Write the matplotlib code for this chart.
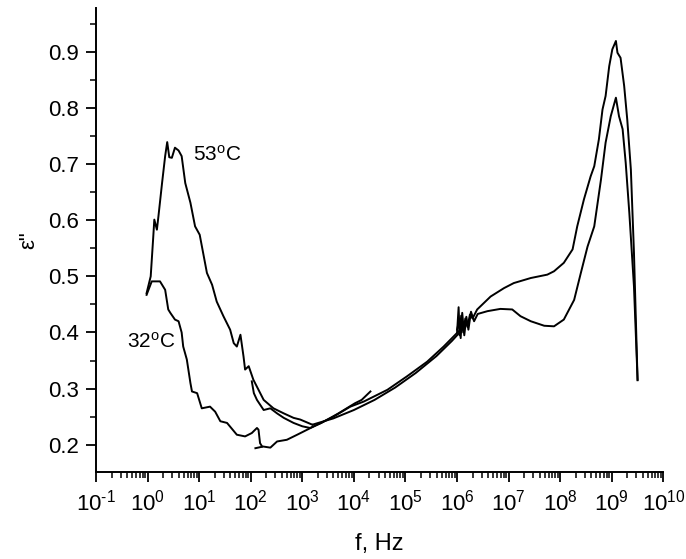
import numpy as np
import matplotlib
matplotlib.use("Agg")
import matplotlib.pyplot as plt
from matplotlib.ticker import LogLocator, MultipleLocator, NullFormatter, FuncFormatter

plt.rcParams['font.family'] = ['Liberation Sans', 'DejaVu Sans']
plt.rcParams['mathtext.fontset'] = 'custom'
plt.rcParams['mathtext.rm'] = 'Liberation Sans'
plt.rcParams['mathtext.it'] = 'Liberation Sans:italic'
plt.rcParams['axes.unicode_minus'] = False

lo53_logf = [-0.02, 0.06, 0.11, 0.13, 0.18, 0.21, 0.28, 0.34, 0.38, 0.42, 0.47, 0.53, 0.60, 0.66,
             0.73, 0.83, 0.92, 1.01, 1.15, 1.25, 1.34, 1.47, 1.60, 1.67, 1.73, 1.80,
             1.86, 1.89, 1.96, 2.05, 2.15, 2.25, 2.44, 2.64, 2.83, 2.96, 3.19]
lo53_eps = [0.470, 0.500, 0.571, 0.601, 0.583, 0.607, 0.666, 0.714, 0.739, 0.712, 0.711, 0.729, 0.724, 0.714,
            0.666, 0.631, 0.589, 0.574, 0.506, 0.485, 0.455, 0.429, 0.405, 0.381, 0.375, 0.396,
            0.357, 0.334, 0.340, 0.316, 0.298, 0.280, 0.265, 0.256, 0.248, 0.245, 0.236]

mid53_logf = [2.02, 2.06, 2.12, 2.25, 2.38, 2.51, 2.64, 2.83, 3.00, 3.15, 3.37, 3.70, 4.02, 4.15, 4.32]
mid53_eps = [0.313, 0.292, 0.280, 0.262, 0.265, 0.256, 0.248, 0.239, 0.233, 0.230, 0.239, 0.256,
             0.274, 0.280, 0.295]

lo32_logf = [-0.02, 0.08, 0.24, 0.34, 0.40, 0.44, 0.53, 0.60, 0.66, 0.69, 0.76, 0.83, 0.86,
             0.96, 1.05, 1.21, 1.31, 1.41, 1.54, 1.73, 1.89, 2.02, 2.12, 2.15, 2.18, 2.22]
lo32_eps = [0.467, 0.491, 0.491, 0.476, 0.441, 0.435, 0.423, 0.420, 0.400, 0.375, 0.352, 0.310,
            0.295, 0.292, 0.265, 0.268, 0.259, 0.242, 0.239, 0.218, 0.215, 0.221, 0.230, 0.227,
            0.203, 0.197]

mid32_logf = [2.09, 2.24, 2.38, 2.51, 2.70, 2.90, 3.16, 3.60, 3.93, 4.19, 4.65, 5.03, 5.42,
              5.74, 6.03]
mid32_eps = [0.194, 0.197, 0.195, 0.206, 0.209, 0.218, 0.230, 0.250, 0.268, 0.277, 0.298,
             0.322, 0.348, 0.375, 0.402]

mid53b_logf = [3.20, 3.60, 4.00, 4.40, 4.80, 5.20, 5.60, 5.90, 6.05]
mid53b_eps = [0.236, 0.247, 0.262, 0.280, 0.302, 0.328, 0.358, 0.385, 0.400]

hfa_logf = [6.00, 6.03, 6.05, 6.08, 6.12, 6.16, 6.20, 6.25, 6.30, 6.39, 6.65, 6.91, 7.10, 7.43,
            7.75, 7.88, 8.07, 8.24, 8.33, 8.46, 8.59, 8.66, 8.75, 8.82, 8.88, 8.95, 9.01,
            9.08, 9.11, 9.17, 9.24, 9.30, 9.37, 9.43, 9.50]
hfa_eps = [0.400, 0.445, 0.395, 0.430, 0.400, 0.425, 0.410, 0.432, 0.425, 0.441, 0.464, 0.479,
           0.488, 0.497, 0.503, 0.509, 0.524, 0.548, 0.589, 0.637, 0.678, 0.696, 0.744, 0.797,
           0.821, 0.874, 0.904, 0.919, 0.898, 0.889, 0.839, 0.779, 0.690, 0.542, 0.315]

hfb_logf = [6.00, 6.04, 6.07, 6.10, 6.14, 6.18, 6.22, 6.27, 6.33, 6.40, 6.59, 6.84, 7.07, 7.23,
            7.43, 7.69, 7.88, 8.07, 8.27, 8.40, 8.53, 8.66, 8.79, 8.88, 8.98, 9.08, 9.14,
            9.21, 9.27, 9.34, 9.43, 9.50]
hfb_eps = [0.405, 0.420, 0.390, 0.435, 0.395, 0.428, 0.405, 0.437, 0.420, 0.433, 0.438, 0.442,
           0.441, 0.429, 0.420, 0.412, 0.411, 0.423, 0.458, 0.506, 0.553, 0.589, 0.672, 0.738,
           0.785, 0.818, 0.785, 0.762, 0.702, 0.613, 0.482, 0.316]

curves = [(lo53_logf, lo53_eps), (mid53_logf, mid53_eps), (lo32_logf, lo32_eps),
          (mid32_logf, mid32_eps), (mid53b_logf, mid53b_eps), (hfa_logf, hfa_eps),
          (hfb_logf, hfb_eps)]


def decade_label(x, pos):
    e = int(round(np.log10(x)))
    if e < 0:
        return '10$^{\\text{-}%d}$' % (-e)
    return '10$^{%d}$' % e


fig = plt.figure(figsize=(6.86, 5.59), dpi=100)
ax = fig.add_axes([0.140, 0.156, 0.827, 0.830])

for logf, eps in curves:
    ax.plot(10.0 ** np.array(logf), eps, color='black', lw=1.4)

ax.set_xscale('log')
ax.set_xlim(1e-1, 1e10)
ax.set_ylim(0.152, 0.978)
ax.xaxis.set_major_locator(LogLocator(base=10, numticks=20))
ax.xaxis.set_major_formatter(FuncFormatter(decade_label))
ax.xaxis.set_minor_locator(LogLocator(base=10, subs=np.arange(2, 10), numticks=200))
ax.xaxis.set_minor_formatter(NullFormatter())
ax.yaxis.set_major_locator(MultipleLocator(0.1))
ax.yaxis.set_minor_locator(MultipleLocator(0.05))

for s in ['top', 'right']:
    ax.spines[s].set_visible(False)
for s in ['left', 'bottom']:
    ax.spines[s].set_linewidth(1.4)

ax.tick_params(which='major', direction='out', length=7.5, width=1.3, labelsize=16, pad=5)
ax.tick_params(which='minor', direction='out', length=4, width=1.1)

ax.set_xlabel('f, Hz', fontsize=17, labelpad=13)
ax.set_ylabel('ε"', fontsize=16, labelpad=6)

ax.text(10 ** 1.35, 0.717, '53$^{\\mathrm{o}}$C', fontsize=15, ha='center', va='center')
ax.text(10 ** 0.07, 0.384, '32$^{\\mathrm{o}}$C', fontsize=15, ha='center', va='center')

fig.savefig('out.png', dpi=100)
